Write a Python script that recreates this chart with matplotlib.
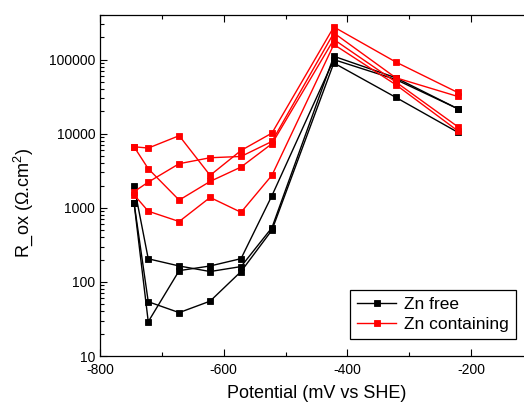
import numpy as np
import matplotlib
matplotlib.use('Agg')
import matplotlib.pyplot as plt
from matplotlib.ticker import FixedLocator, FuncFormatter, LogLocator, NullFormatter

plt.rcParams['font.family'] = ['Liberation Sans', 'DejaVu Sans']
plt.rcParams['mathtext.fontset'] = 'custom'
plt.rcParams['mathtext.rm'] = 'Liberation Sans'
plt.rcParams['mathtext.it'] = 'Liberation Sans'
plt.rcParams['axes.unicode_minus'] = False

# Potencial (mV vs SHE)
potential = [-745, -722, -672, -622, -572, -522, -422, -322, -222]

# Zn free
zn_free_1 = [1980, 205, 164, 138, 161, 540, 111000, 57000, 21800]
zn_free_2 = [1175, 29, 142, 164, 206, 1460, 100000, 54000, 21800]
zn_free_3 = [1175, 54, 38.5, 55, 138, 500, 90000, 31000, 10500]

# Zn containing
zn_cont_1 = [6670, 6400, 9400, 2740, 5940, 10200, 276000, 93000, 36100]
zn_cont_2 = [6670, 3370, 1270, 2270, 3550, 7330, 187000, 50000, 12500]
zn_cont_3 = [1650, 2220, 3940, 4740, 4930, 7870, 229000, 57000, 31900]
zn_cont_4 = [1500, 900, 653, 1380, 870, 2750, 160000, 46000, 11000]

free_series = [zn_free_1, zn_free_2, zn_free_3]
cont_series = [zn_cont_1, zn_cont_2, zn_cont_3, zn_cont_4]

W, H = 524, 405
fig = plt.figure(figsize=(W / 100, H / 100), dpi=100)
ax = fig.add_axes([100 / W, (H - 356) / H, 433 / W, 341 / H])

style = dict(lw=1.0, marker='s', markersize=5, markeredgewidth=0.6)
for i, s in enumerate(free_series):
    ax.plot(potential, s, color='black', markeredgecolor='black',
            label='Zn free' if i == 0 else None, **style)
for i, s in enumerate(cont_series):
    ax.plot(potential, s, color='#ff0000', markeredgecolor='#ff0000',
            label='Zn containing' if i == 0 else None, **style)

ax.set_yscale('log')
ax.set_xlim(-800, -100)
ax.set_ylim(10, 4e5)

ax.xaxis.set_major_locator(FixedLocator([-800, -600, -400, -200]))
ax.xaxis.set_minor_locator(FixedLocator([-700, -500, -300]))
ax.yaxis.set_major_locator(FixedLocator([10, 100, 1000, 10000, 100000]))
ax.yaxis.set_minor_locator(LogLocator(base=10, subs=np.arange(2, 10)))
ax.yaxis.set_major_formatter(FuncFormatter(lambda v, p: '%d' % v))
ax.yaxis.set_minor_formatter(NullFormatter())

ax.tick_params(which='both', direction='in', top=True, right=False, labelsize=10, width=0.8)
ax.tick_params(which='major', length=5)
ax.tick_params(which='minor', length=3)
ax.tick_params(axis='x', pad=5)
ax.spines['right'].set_visible(False)
for sp in ['left', 'bottom', 'top']:
    ax.spines[sp].set_linewidth(0.9)

ax.set_xlabel('Potential (mV vs SHE)', fontsize=13, labelpad=6)
ax.set_ylabel('R_ox (Ω.cm$^{2}$)', fontsize=13)
ax.yaxis.set_label_coords(-0.15, 0.45)

leg = ax.legend(loc='lower right', bbox_to_anchor=(516 / W, 66 / H),
                bbox_transform=fig.transFigure, borderaxespad=0,
                fontsize=12.5, fancybox=False, framealpha=1,
                edgecolor='black', handlelength=2.2, handletextpad=0.5,
                borderpad=0.4, labelspacing=0.3, markerscale=0.8)
leg.get_frame().set_linewidth(0.9)

fig.savefig('out.png', dpi=100)
